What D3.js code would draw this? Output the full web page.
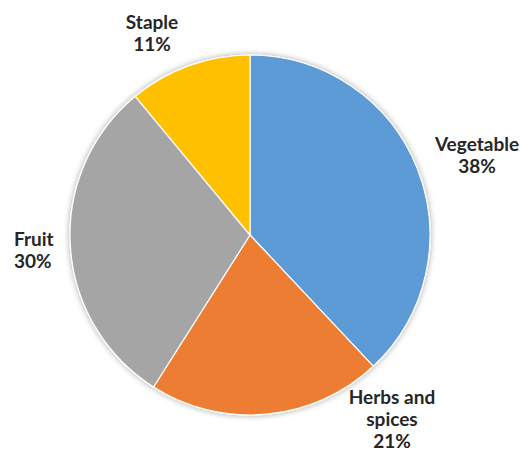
<!DOCTYPE html>
<html>
<head>
<meta charset="utf-8">
<script src="https://cdn.jsdelivr.net/npm/d3@7"></script>
<style>
  body { margin: 0; background: #fff; }
  svg { display: block; }
  .label { font-family: Lato, "Open Sans", sans-serif; font-weight: bold; font-size: 19px; fill: #262626; }
</style>
</head>
<body>
<svg id="chart" width="530" height="461"></svg>
<script>
const categories = ['Vegetable', 'Herbs and spices', 'Fruit', 'Staple'];
const shares = [38, 21, 30, 11];
const colors = ['#5B9BD5', '#ED7D31', '#A5A5A5', '#FFC000'];

// label line breaks, as in the picture
const labelLines = [['Vegetable'], ['Herbs and', 'spices'], ['Fruit'], ['Staple']];
// label anchors (first line baseline) and alignment
const labelPos = [[477, 151, 'middle'], [392, 404, 'middle'], [14, 246, 'start'], [152, 29, 'middle']];

const svg = d3.select('#chart');
const cx = 250, cy = 235, radius = 180;

const defs = svg.append('defs');
const shadow = defs.append('filter').attr('id', 'shadow')
  .attr('x', '-10%').attr('y', '-10%').attr('width', '120%').attr('height', '120%');
shadow.append('feGaussianBlur').attr('in', 'SourceAlpha').attr('stdDeviation', 3).attr('result', 'blur');
shadow.append('feComponentTransfer').attr('in', 'blur').attr('result', 'soft')
  .append('feFuncA').attr('type', 'linear').attr('slope', 0.35);
const merge = shadow.append('feMerge');
merge.append('feMergeNode').attr('in', 'soft');
merge.append('feMergeNode').attr('in', 'SourceGraphic');

const pie = d3.pie().sort(null).value((d) => d);
const arc = d3.arc().innerRadius(0).outerRadius(radius);

const g = svg.append('g')
  .attr('transform', `translate(${cx},${cy})`)
  .attr('filter', 'url(#shadow)');

g.selectAll('path')
  .data(pie(shares))
  .enter()
  .append('path')
  .attr('d', arc)
  .attr('fill', (d, i) => colors[i])
  .attr('stroke', '#fff')
  .attr('stroke-width', 1.2)
  .attr('stroke-linejoin', 'round');

const lineHeight = 22;
categories.forEach((name, i) => {
  const [x, y, anchor] = labelPos[i];
  const lines = labelLines[i].concat([shares[i] + '%']);
  const text = svg.append('text')
    .attr('class', 'label')
    .attr('text-anchor', anchor)
    .attr('x', x)
    .attr('y', y);
  lines.forEach((line, j) => {
    text.append('tspan')
      .attr('x', x)
      .attr('dy', j === 0 ? 0 : lineHeight)
      .text(line);
  });
});
</script>
</body>
</html>
